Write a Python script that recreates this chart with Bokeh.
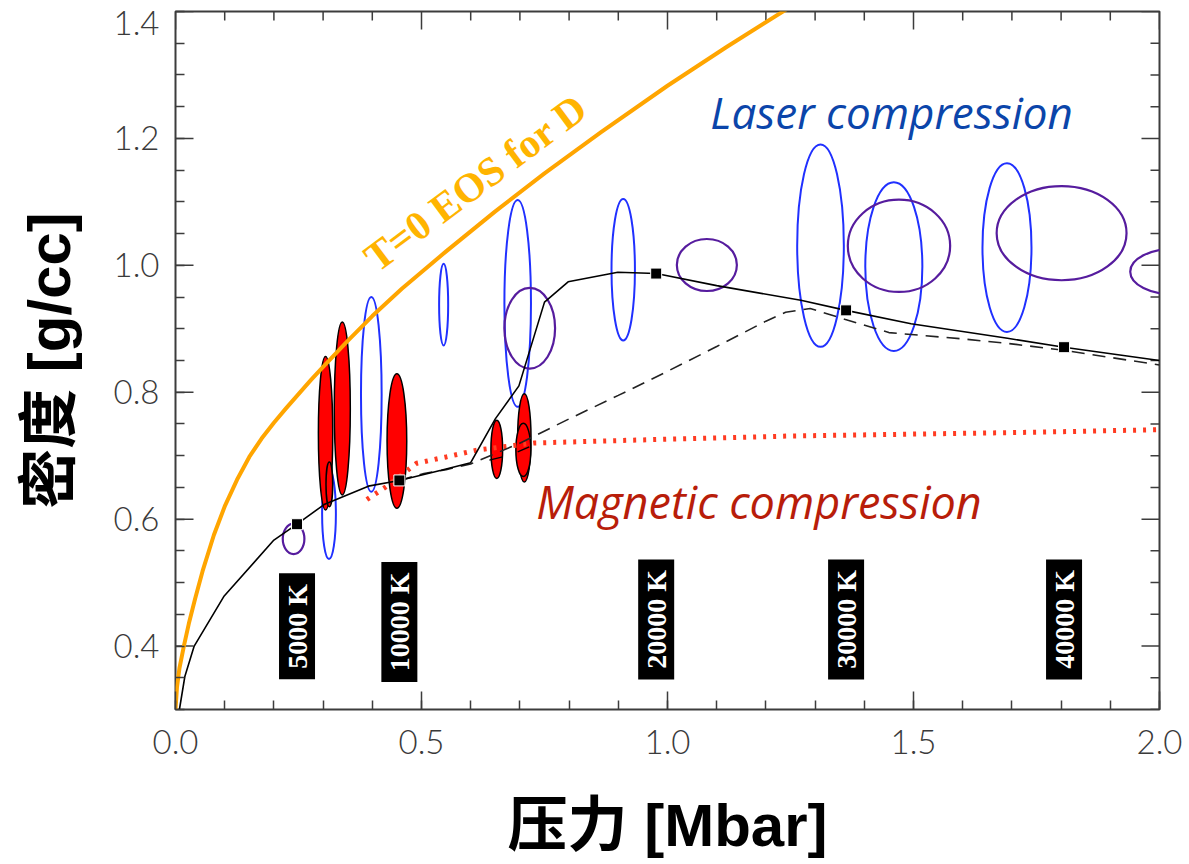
import math
from bokeh.plotting import figure
from bokeh.models import Range1d, FixedTicker, PrintfTickFormatter
from bokeh.core.properties import value
from bokeh.embed import file_html
from bokeh.resources import INLINE

# ---------------- data ----------------
x_ticks = [0.0, 0.5, 1.0, 1.5, 2.0]
y_ticks = [0.4, 0.6, 0.8, 1.0, 1.2, 1.4]
x_minor = [round(0.1 * i, 2) for i in range(21)]
y_minor = [round(0.3 + 0.05 * i, 3) for i in range(23)]

# T=0 EOS for D (orange)
eos_P = [0.0, 0.003, 0.008, 0.017, 0.027, 0.04, 0.055, 0.078, 0.1, 0.125, 0.15, 0.175, 0.2, 0.225, 0.25,
         0.275, 0.3, 0.35, 0.4, 0.46, 0.55, 0.65, 0.75, 0.865, 1.0, 1.12, 1.245, 1.30]
eos_rho = [0.30, 0.335, 0.365, 0.40, 0.435, 0.475, 0.518, 0.575, 0.62, 0.662, 0.698, 0.727, 0.752, 0.775,
           0.797, 0.819, 0.84, 0.881, 0.92, 0.963, 1.022, 1.085, 1.145, 1.21, 1.283, 1.344, 1.405, 1.43]

# Hugoniot model, solid
hug_P = [0.008, 0.019, 0.038, 0.099, 0.2, 0.247, 0.302, 0.392, 0.455, 0.54, 0.6, 0.65, 0.698, 0.75, 0.798,
         0.899, 0.977, 1.10, 1.271, 1.363, 1.495, 1.691, 1.806, 2.0]
hug_rho = [0.30, 0.352, 0.40, 0.479, 0.567, 0.592, 0.623, 0.652, 0.661, 0.677, 0.689, 0.758, 0.81, 0.942, 0.974,
           0.989, 0.987, 0.968, 0.945, 0.929, 0.908, 0.885, 0.871, 0.85]

# Hugoniot model, dashed
hug2_P = [0.455, 0.505, 0.55, 0.60, 0.698, 0.80, 0.90, 0.995, 1.10, 1.20, 1.24, 1.29, 1.36, 1.45, 1.60,
          1.691, 1.806, 2.0]
hug2_rho = [0.661, 0.672, 0.678, 0.687, 0.719, 0.758, 0.795, 0.831, 0.872, 0.912, 0.926, 0.932, 0.915,
            0.894, 0.884, 0.877, 0.866, 0.843]

# Magnetic compression (red dotted)
mag_P = [0.389, 0.43, 0.49, 0.55, 0.614, 0.729, 0.865, 1.0, 1.25, 1.5, 1.75, 2.0]
mag_rho = [0.631, 0.652, 0.688, 0.698, 0.709, 0.72, 0.723, 0.726, 0.731, 0.734, 0.737, 0.741]

# temperature markers
temp_P = [0.247, 0.455, 0.977, 1.363, 1.806]
temp_rho = [0.592, 0.661, 0.987, 0.929, 0.871]
temp_labels = ["5000 K", "10000 K", "20000 K", "30000 K", "40000 K"]

# laser data (blue ellipses): centre, full width (Mbar), full height (g/cc)
laser_P = [0.312, 0.398, 0.545, 0.6955, 0.910, 1.311, 1.460, 1.690]
laser_rho = [0.608, 0.7966, 0.938, 0.94, 0.993, 1.031, 0.998, 1.028]
laser_dP = [0.028, 0.042, 0.0184, 0.054, 0.0476, 0.0948, 0.116, 0.0996]
laser_drho = [0.142, 0.307, 0.1286, 0.326, 0.2232, 0.319, 0.266, 0.266]

# purple ellipses
purp_P = [0.24, 0.72, 1.080, 1.4705, 1.801, 2.032]
purp_rho = [0.569, 0.9008, 1.0005, 1.0307, 1.0507, 0.990]
purp_dP = [0.044, 0.103, 0.122, 0.208, 0.264, 0.183]
purp_drho = [0.048, 0.127, 0.082, 0.1454, 0.1486, 0.073]

# magnetic data (red filled ellipses)
mgd_P = [0.305, 0.339, 0.3127, 0.450, 0.653, 0.709, 0.707]
mgd_rho = [0.7354, 0.7743, 0.6548, 0.723, 0.710, 0.728, 0.709]
mgd_dP = [0.0292, 0.0326, 0.0136, 0.040, 0.0238, 0.0272, 0.0304]
mgd_drho = [0.2426, 0.273, 0.0708, 0.212, 0.092, 0.139, 0.084]

# short segments inside red ellipses
seg_P0 = [0.638, 0.6955]
seg_rho0 = [0.693, 0.706]
seg_P1 = [0.665, 0.719]
seg_rho1 = [0.698, 0.714]

# ---------------- figure ----------------
X0, X1, Y0, Y1 = 0.0, 2.0, 0.3, 1.4
FRAME_W, FRAME_H = 984.0, 698.5
xpx = (X1 - X0) / FRAME_W   # data per pixel (x)
ypx = (Y1 - Y0) / FRAME_H   # data per pixel (y)

p = figure(width=1189, height=864,
           x_range=Range1d(X0, X1), y_range=Range1d(Y0, Y1),
           output_backend="svg", toolbar_location=None,
           min_border_left=175, min_border_right=30, min_border_top=11, min_border_bottom=155,
           x_axis_label="压力 [Mbar]", y_axis_label="密度 [g/cc]")
p.grid.visible = False
p.background_fill_color = "white"
p.border_fill_color = "white"
p.outline_line_color = "#3c3c3c"
p.outline_line_width = 2

TICK = "#3c3c3c"
# top y label sits a little below its tick (as in the original figure)
y_label_pos = [t if t < Y1 - 1e-9 else Y1 - 12 * ypx for t in y_ticks]
p.xaxis.ticker = FixedTicker(ticks=x_ticks, minor_ticks=x_minor)
p.yaxis.ticker = FixedTicker(ticks=y_label_pos, minor_ticks=y_minor)
p.yaxis.major_label_overrides = {y_label_pos[-1]: "%.1f" % y_ticks[-1]}
for ax in (p.xaxis[0], p.yaxis[0]):
    ax.axis_line_color = None
    ax.major_tick_in = 18
    ax.major_tick_out = 0
    ax.minor_tick_in = 9
    ax.minor_tick_out = 0
    ax.major_tick_line_color = TICK
    ax.minor_tick_line_color = TICK
    ax.major_tick_line_width = 1.5
    ax.minor_tick_line_width = 1.5
    ax.formatter = PrintfTickFormatter(format="%.1f")
    ax.major_label_text_font = "Lato Light, Lato"
    ax.major_label_text_font_size = "33px"
    ax.major_label_text_color = "#3a3a3a"
    ax.axis_label_text_font = "Liberation Sans, Noto Sans CJK SC"
    ax.axis_label_text_font_style = "bold"
    ax.axis_label_text_font_size = "60px"
    ax.axis_label_text_color = "black"
# left major ticks are drawn as segments (so the shifted top label gets no tick)
p.yaxis.major_tick_line_color = None
p.xaxis.major_label_standoff = 20
p.yaxis.major_label_standoff = 16
p.xaxis.axis_label_standoff = 35
p.yaxis.axis_label_standoff = 28

# mirrored ticks on the top and right frame edges, and left major ticks
tx_len = [18 if t in x_ticks else 9 for t in x_minor]
p.segment(x0=x_minor, y0=[Y1] * len(x_minor), x1=x_minor, y1=[Y1 - l * ypx for l in tx_len],
          line_color=TICK, line_width=1.5)
ty_len = [18 if any(abs(t - m) < 1e-6 for m in y_ticks) else 9 for t in y_minor]
p.segment(x0=[X1] * len(y_minor), y0=y_minor, x1=[X1 - l * xpx for l in ty_len], y1=y_minor,
          line_color=TICK, line_width=1.5)
p.segment(x0=[X0] * len(y_ticks), y0=y_ticks, x1=[X0 + 18 * xpx] * len(y_ticks), y1=y_ticks,
          line_color=TICK, line_width=1.5)

# ---------------- glyphs ----------------
p.ellipse(x=laser_P, y=laser_rho, width=laser_dP, height=laser_drho,
          fill_color=None, line_color="#2030ff", line_width=2)
p.ellipse(x=purp_P, y=purp_rho, width=purp_dP, height=purp_drho,
          fill_color=None, line_color="#561c9e", line_width=2.2)
p.ellipse(x=mgd_P, y=mgd_rho, width=mgd_dP, height=mgd_drho,
          fill_color="#ff0000", line_color="black", line_width=1.5)
p.segment(x0=seg_P0, y0=seg_rho0, x1=seg_P1, y1=seg_rho1, line_color="black", line_width=1.3)

p.line(mag_P, mag_rho, line_color="#ff3b22", line_width=5, line_dash="3 7")
p.line(hug2_P, hug2_rho, line_color="#222222", line_width=1.6, line_dash="13 8")
p.line(hug_P, hug_rho, line_color="black", line_width=1.6)
p.scatter(temp_P, temp_rho, marker="square", size=11, fill_color="black",
          line_color="white", line_width=1)
p.line(eos_P, eos_rho, line_color="#ffa500", line_width=4, line_join="round")

# temperature tags
box_rho = [0.431, 0.438, 0.442, 0.442, 0.442]
box_h = [14 * len(t) + 22 for t in temp_labels]
p.rect(x=temp_P, y=box_rho, width=36, height=box_h, width_units="screen", height_units="screen",
       fill_color="black", line_color=None)
p.text(x=temp_P, y=box_rho, text=temp_labels, angle=math.pi / 2, text_align="center",
       text_baseline="middle", text_color="white", text_font=value("Liberation Serif"),
       text_font_style="bold", text_font_size="28px")

# annotations
p.text(x=[1.087], y=[1.241], text=["Laser compression"], text_align="left",
       text_baseline="middle", text_color="#0b45aa", text_font=value("Open Sans"),
       text_font_style="italic", text_font_size="44px")
p.text(x=[0.733], y=[0.628], text=["Magnetic compression"], text_align="left",
       text_baseline="middle", text_color="#b81d0a", text_font=value("Open Sans"),
       text_font_style="italic", text_font_size="45px")
p.text(x=[0.6098], y=[1.1307], text=["T=0 EOS for D"], angle=0.642, text_align="center",
       text_baseline="middle", text_color="#ffb400", text_font=value("Liberation Serif"),
       text_font_style="bold", text_font_size="41px")

open("out.html", "w").write(file_html(p, INLINE))
